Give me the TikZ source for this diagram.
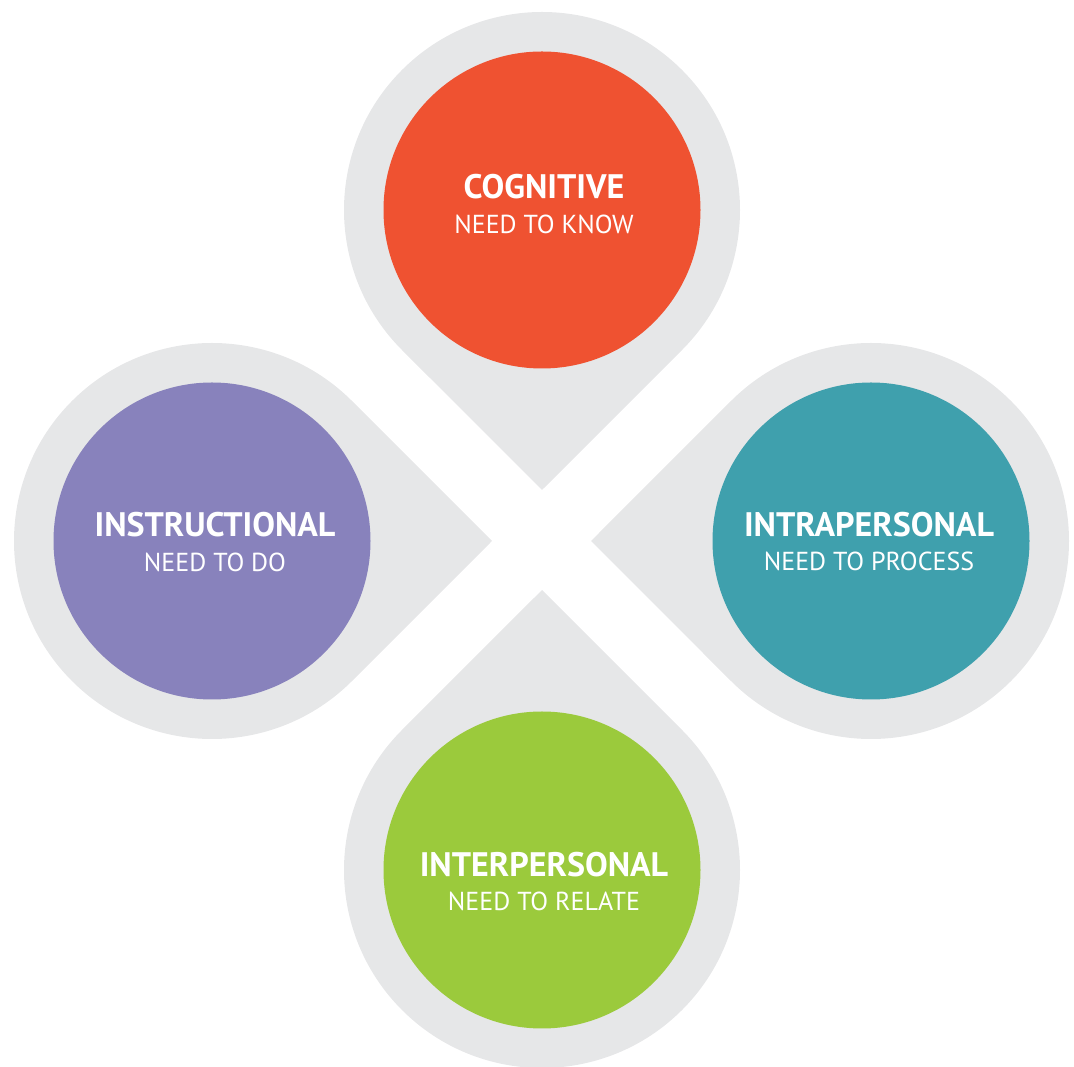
\documentclass[tikz,border=0pt]{standalone}
\usepackage{fontspec}
\setmainfont{PT Sans}
\definecolor{pinGray}{HTML}{E6E7E8}
\definecolor{cogOrange}{HTML}{EF5231}
\definecolor{insPurple}{HTML}{8882BC}
\definecolor{intraTeal}{HTML}{3FA0AD}
\definecolor{interGreen}{HTML}{9BCA3C}
\begin{document}
\begin{tikzpicture}[x=1pt,y=1pt,
  pin/.style={fill=pinGray},
  disc/.style={circle, minimum size=317pt, inner sep=0pt, draw=none},
  ttl/.style={anchor=base, text=white, inner sep=0pt, font=\fontsize{34}{34}\selectfont\bfseries},
  sub/.style={anchor=base, text=white, inner sep=0pt, font=\fontsize{26}{26}\selectfont}]
\useasboundingbox (0,0) rectangle (1074,1066);
\coordinate (cT) at (542,856);
\coordinate (cL) at (212,525);
\coordinate (cR) at (871,525);
\coordinate (cB) at (542,196);
% grey pins
\fill[pin] ([shift={(-90:280pt)}]cT) -- ([shift={(-45:198pt)}]cT) arc[start angle=-45, end angle=225, radius=198pt] -- cycle;
\fill[pin] ([shift={(0:280pt)}]cL) -- ([shift={(45:198pt)}]cL) arc[start angle=45, end angle=315, radius=198pt] -- cycle;
\fill[pin] ([shift={(180:280pt)}]cR) -- ([shift={(225:198pt)}]cR) arc[start angle=225, end angle=495, radius=198pt] -- cycle;
\fill[pin] ([shift={(90:280pt)}]cB) -- ([shift={(135:198pt)}]cB) arc[start angle=135, end angle=405, radius=198pt] -- cycle;
% coloured discs
\node[disc, fill=cogOrange] (nT) at (cT) {};
\node[disc, fill=insPurple] (nL) at (cL) {};
\node[disc, fill=intraTeal] (nR) at (cR) {};
\node[disc, fill=interGreen] (nB) at (cB) {};
% labels
\node[ttl] (tT) at ([xshift=2pt,yshift=11pt]cT) {COGNITIVE};
\node[sub] (sT) at ([xshift=2pt,yshift=-24pt]cT) {NEED TO KNOW};
\node[ttl] (tL) at ([xshift=3pt,yshift=4pt]cL) {INSTRUCTIONAL};
\node[sub] (sL) at ([xshift=3pt,yshift=-31pt]cL) {NEED TO DO};
\node[ttl] (tR) at ([xshift=-2pt,yshift=4pt]cR) {INTRAPERSONAL};
\node[sub] (sR) at ([xshift=-2pt,yshift=-30pt]cR) {NEED TO PROCESS};
\node[ttl] (tB) at ([xshift=2pt,yshift=-7pt]cB) {INTERPERSONAL};
\node[sub] (sB) at ([xshift=2pt,yshift=-41pt]cB) {NEED TO RELATE};
\end{tikzpicture}
\end{document}
